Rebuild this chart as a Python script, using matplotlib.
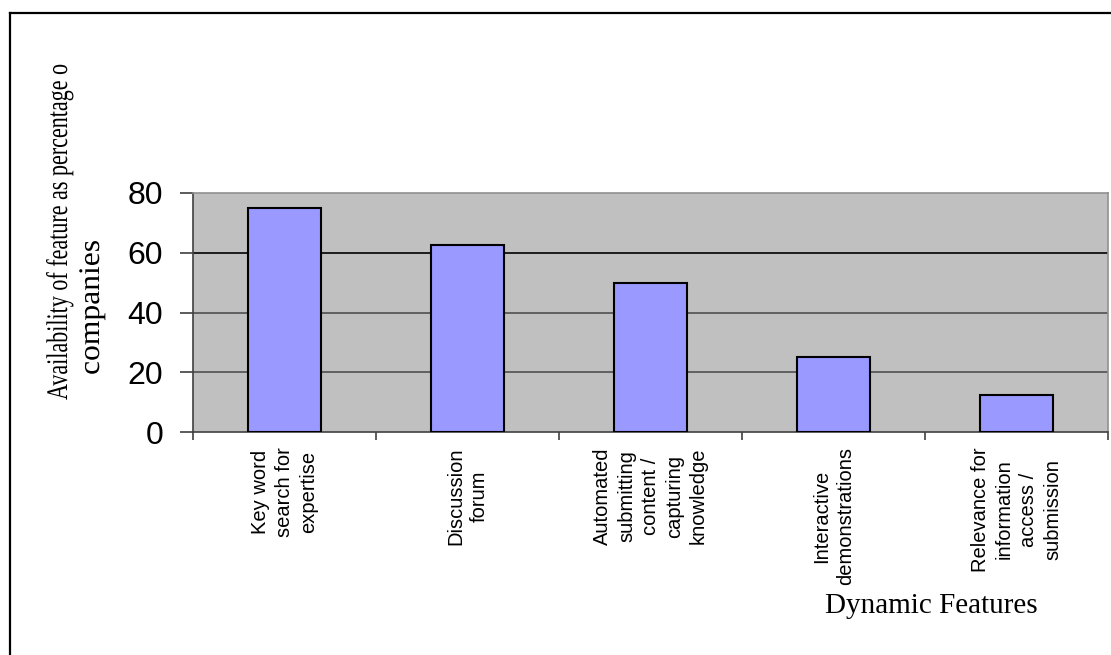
import matplotlib
matplotlib.use("Agg")
import matplotlib.pyplot as plt
from matplotlib.lines import Line2D
from matplotlib.patheffects import AbstractPathEffect
from matplotlib.transforms import Affine2D
import numpy as np

# Data
categories = [
    "Key word\nsearch for\nexpertise",
    "Discussion\nforum",
    "Automated\nsubmitting\ncontent /\ncapturing\nknowledge",
    "Interactive\ndemonstrations",
    "Relevance for\ninformation\naccess /\nsubmission",
]
values = [75, 62.5, 50, 25, 12.5]
y_ticks = [0, 20, 40, 60, 80]
y_title_lines = ["Availability of feature as percentage o", "companies"]
x_title = "Dynamic Features"


class GlyphScale(AbstractPathEffect):
    """Scale the glyph outlines of a text (x along the baseline, y across it)."""

    def __init__(self, sx=1.0, sy=1.0):
        super().__init__()
        self.sx = sx
        self.sy = sy

    def draw_path(self, renderer, gc, tpath, affine, rgbFace=None):
        renderer.draw_path(gc, tpath, Affine2D().scale(self.sx, self.sy) + affine, rgbFace)


W, H = 1111, 655
fig = plt.figure(figsize=(W / 100, H / 100), dpi=100)
fig.patch.set_facecolor("white")


def px(x, y):
    """Pixel position (from the top-left corner) to figure fraction."""
    return x / W, 1 - y / H


# Plot area in pixel coordinates
left, right, top, bottom = 193, 1108, 193, 432
ax = fig.add_axes([left / W, 1 - bottom / H, (right - left) / W, (bottom - top) / H])
ax.set_facecolor("#C0C0C0")

x = np.arange(len(values))
ax.bar(x, values, width=0.4, color="#9999FF", edgecolor="black", linewidth=1.5, zorder=3)

ax.set_xlim(-0.5, len(values) - 0.5)
ax.set_ylim(0, 80)

# Horizontal gridlines
for yv in y_ticks[1:-1]:
    ax.axhline(yv, color="black" if yv == 60 else "#505050", linewidth=1.2, zorder=1)

for side in ["top", "right"]:
    ax.spines[side].set_color("#909090")
    ax.spines[side].set_linewidth(1.2)
for side in ["left", "bottom"]:
    ax.spines[side].set_color("#404040")
    ax.spines[side].set_linewidth(1.2)

ax.set_yticks(y_ticks)
ax.set_yticklabels([str(v) for v in y_ticks], fontfamily="Liberation Sans", fontsize=23)
ax.tick_params(axis="y", direction="out", length=9.5, width=1.2, color="#404040", pad=12)

# Category boundary ticks on the x axis
ax.set_xticks(np.arange(-0.5, len(values), 1.0))
ax.set_xticklabels([])
ax.tick_params(axis="x", direction="out", length=6, width=1.2, color="#404040")

# Rotated category labels centred under each bar
for xi, lab in zip(x, categories):
    ax.annotate(lab, xy=(xi, 0), xycoords=("data", "axes fraction"),
                xytext=(0, -11), textcoords="offset points",
                rotation=90, ha="center", va="top", multialignment="center",
                fontfamily="Liberation Sans", fontsize=14.5, linespacing=1.33)

# Vertical axis title: two lines in condensed serif type.
# Each line is set at the size that gives its length, then its glyphs are
# heightened back to the common base size.
renderer = fig.canvas.get_renderer()
base_size = 21.5
for line, (bx, by), length in zip(y_title_lines, [(67, 400), (99, 375)], [336, 135]):
    t = fig.text(*px(bx, by), line, rotation=90, rotation_mode="anchor",
                 ha="left", va="baseline",
                 fontfamily="Liberation Serif", fontsize=base_size)
    natural = t.get_window_extent(renderer).height
    size = base_size * length / natural
    t.set_fontsize(size)
    t.set_path_effects([GlyphScale(1.0, base_size / size)])

fig.text(*px(931, 606), x_title, ha="center", va="center",
         fontfamily="Liberation Serif", fontsize=21)

# Frame around the chart
fig.add_artist(Line2D([10 / W, 1.0], [1 - 12.5 / H, 1 - 12.5 / H], color="black", linewidth=1.6))
fig.add_artist(Line2D([10 / W, 10 / W], [0.0, 1 - 12.5 / H], color="black", linewidth=1.6))

fig.savefig("out.png", dpi=100)
